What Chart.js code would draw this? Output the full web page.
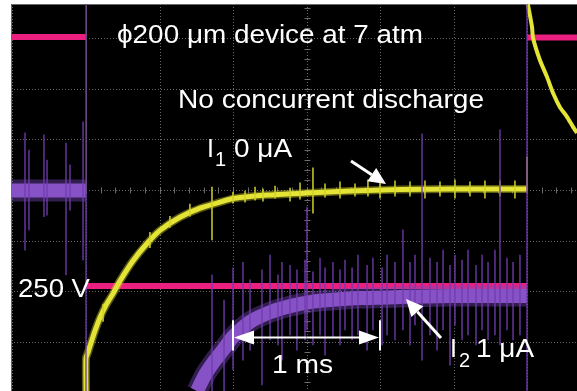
<!DOCTYPE html>
<html>
<head>
<meta charset="utf-8">
<script src="https://cdn.jsdelivr.net/npm/chart.js@4/dist/chart.umd.min.js"></script>
<style>
html,body{margin:0;padding:0;background:#fff;}
canvas{display:block;}
</style>
</head>
<body>
<canvas id="c" width="577" height="391"></canvas>
<script>
// ---- data (time in ms, amplitude in scope divisions) ----
const pinkPreT  = [-0.51, 0.0];
const pinkPre   = [3.03, 3.03];
const pinkOnT   = [0.0, 3.0];
const pinkOn    = [-1.90, -1.90];
const pinkPostT = [3.0, 3.34];
const pinkPost  = [3.02, 3.02];

const yellowRiseT = [0, 0, 0.014, 0.027, 0.061, 0.095, 0.136, 0.184, 0.231, 0.320, 0.415, 0.503, 0.639, 0.776, 0.912, 1.0, 1.231, 1.503, 1.796, 2.136, 2.476, 3.0];
const yellowRise  = [-3.98, -3.33, -3.21, -3.09, -2.79, -2.53, -2.28, -2.05, -1.80, -1.40, -1.06, -0.80, -0.54, -0.36, -0.24, -0.17, -0.10, -0.06, -0.02, 0.01, 0.02, 0.02];
const yellowDecayT = [3.0, 3.007, 3.034, 3.041, 3.088, 3.136, 3.177, 3.224, 3.272, 3.313, 3.34];
const yellowDecay  = [3.75, 3.66, 3.23, 3.01, 2.57, 2.24, 1.92, 1.64, 1.45, 1.25, 1.13];

const purplePreT = [-0.51, 0.0];
const purplePre  = [-0.01, -0.01];
const purpleRiseT = [0.755, 0.810, 0.878, 0.932, 1.0, 1.116, 1.252, 1.388, 1.524, 1.660, 1.864, 2.136, 2.476, 3.0];
const purpleRise  = [-3.98, -3.66, -3.37, -3.17, -2.91, -2.61, -2.42, -2.30, -2.22, -2.18, -2.14, -2.12, -2.10, -2.10];

// spikes: time, low, high
const purpleSpikeT  = [-0.415, -0.388, -0.286, -0.265, -0.136, -0.109, -0.020, 0.0, 3.0,
  0.857, 0.939, 1.0, 1.068, 1.116, 1.197, 1.252, 1.306, 1.333, 1.388, 1.435, 1.490, 1.503, 1.544, 1.592, 1.626, 1.680, 1.728, 1.762, 1.810, 1.850, 1.912, 1.952, 2.014, 2.048, 2.102,
  2.156, 2.204, 2.238, 2.286, 2.340, 2.388, 2.429, 2.476, 2.510, 2.558, 2.599, 2.653, 2.694, 2.735, 2.782, 2.816, 2.864, 2.905, 2.952];
const purpleSpikeLo = [-1.19, -0.79, -0.53, -0.50, -1.68, -0.40, -1.39, -4.0, -4.0,
  -3.98, -3.98, -3.56, -3.37, -3.17, -3.86, -2.97, -3.07, -3.37, -2.87, -3.17, -2.97, -2.77, -3.07, -2.87, -3.27, -2.93, -3.07, -2.77, -2.97, -2.87, -3.17, -2.77, -3.07, -2.87, -2.97,
  -2.77, -3.07, -2.67, -3.37, -2.87, -3.17, -2.77, -3.47, -2.67, -2.97, -2.87, -3.07, -2.77, -2.97, -2.87, -3.07, -2.77, -2.97, -2.87];
const purpleSpikeHi = [1.13, 0.79, 1.09, 0.59, 0.93, 0.50, 1.35, 3.7, 3.7,
  -1.68, -2.18, -1.54, -1.43, -1.78, -1.58, -1.29, -1.68, -1.43, -1.49, -1.58, -1.39, -0.34, -1.62, -1.35, -1.54, -1.43, -1.58, -1.39, -1.54, -1.29, -1.49, -1.35, -1.54, -1.29, -1.43,
  -0.79, -1.43, -1.29, 1.11, -1.35, -1.43, -1.19, -1.49, -1.29, -1.39, -1.19, -1.49, -1.29, -1.43, -1.19, 1.19, -1.35, -1.43, -1.29];

const yellowSpikeT  = [0.116, 0.435, 0.571, 0.707, 0.857, 1.0, 1.082, 1.150, 1.204, 1.286, 1.388, 1.456, 1.544, 1.626, 1.728, 1.830, 1.918, 2.0, 2.102, 2.204, 2.306, 2.408, 2.510, 2.612, 2.714, 2.816, 2.918, 3.0];
const yellowSpikeLo = [-2.60, -1.14, -0.74, -0.52, -0.99, -0.26, -0.24, -0.20, -0.22, -0.16, -0.22, -0.18, -0.46, -0.14, -0.16, -0.12, -0.12, -0.16, -0.12, -0.12, -0.16, -0.12, -0.16, -0.12, -0.16, -0.12, -0.16, 0.0];
const yellowSpikeHi = [-2.26, -0.84, -0.52, -0.28, 0.06, -0.04, -0.02, 0.06, 0.02, 0.08, 0.04, 0.14, 0.44, 0.12, 0.16, 0.12, 0.20, 0.16, 0.18, 0.16, 0.18, 0.16, 0.20, 0.16, 0.18, 0.18, 0.18, 0.65];

// ---- helpers ----
const pts = (xs, ys) => xs.map((x, i) => ({x: x, y: ys[i]}));
const bars = (xs, lo, hi) => xs.map((x, i) => ({x: x, y: [lo[i], hi[i]]}));

const PINK = '#ea1f7f', YELLOW = '#e4e436', PURPLE = '#8752c6';
const FONT = '"Liberation Sans", Arial, sans-serif';

function lineDs(data, color, width, order) {
  return {type: 'line', data: data, borderColor: color, borderWidth: width, pointRadius: 0,
    tension: 0.2, fill: false, order: order, borderCapStyle: 'butt', borderJoinStyle: 'round'};
}
function barDs(data, color, order) {
  return {type: 'bar', data: data, backgroundColor: color, borderWidth: 0, barThickness: 1,
    grouped: false, order: order};
}

function fitText(ctx, str, x, base, w, size) {
  ctx.font = size + 'px ' + FONT;
  const m = ctx.measureText(str).width;
  ctx.save();
  ctx.translate(x, base);
  if (w) ctx.scale(w / m, 1);
  ctx.fillText(str, 0, 0);
  ctx.restore();
}
function arrow(ctx, x1, y1, x2, y2, hl, hw, lw) {
  const a = Math.atan2(y2 - y1, x2 - x1);
  const bx = x2 - hl * Math.cos(a), by = y2 - hl * Math.sin(a);
  ctx.lineWidth = lw;
  ctx.beginPath(); ctx.moveTo(x1, y1); ctx.lineTo(bx, by); ctx.stroke();
  ctx.beginPath();
  ctx.moveTo(x2, y2);
  ctx.lineTo(bx + hw * Math.sin(a), by - hw * Math.cos(a));
  ctx.lineTo(bx - hw * Math.sin(a), by + hw * Math.cos(a));
  ctx.closePath(); ctx.fill();
}

const scopePlugin = {
  id: 'scope',
  beforeDatasetsDraw(chart) {
    const {ctx, chartArea: ca, scales: {x, y}} = chart;
    ctx.save();
    ctx.fillStyle = '#000';
    ctx.fillRect(ca.left, ca.top, ca.right - ca.left, ca.bottom - ca.top);
    ctx.strokeStyle = 'rgba(150,150,150,0.7)';
    ctx.lineWidth = 1;
    ctx.setLineDash([1, 2]);
    for (let t = -0.5; t <= 3.34; t += 0.5) {
      const px = Math.round(x.getPixelForValue(t)) + 0.5;
      ctx.beginPath(); ctx.moveTo(px, ca.top); ctx.lineTo(px, ca.bottom); ctx.stroke();
    }
    for (let v = -3; v <= 3; v += 1) {
      const py = Math.round(y.getPixelForValue(v)) + 0.5;
      ctx.beginPath(); ctx.moveTo(ca.left, py); ctx.lineTo(ca.right, py); ctx.stroke();
    }
    ctx.setLineDash([]);
    ctx.strokeStyle = 'rgba(130,130,130,0.8)';
    ctx.beginPath(); ctx.moveTo(ca.left + 0.5, ca.bottom); ctx.lineTo(ca.left + 0.5, ca.top + 0.5); ctx.lineTo(ca.right, ca.top + 0.5); ctx.stroke();
    const y0 = Math.round(y.getPixelForValue(0)) + 0.5;
    for (let t = -0.5; t <= 3.34; t += 0.1) {
      const px = Math.round(x.getPixelForValue(t)) + 0.5;
      ctx.beginPath(); ctx.moveTo(px, y0 - 3); ctx.lineTo(px, y0 + 3); ctx.stroke();
    }
    const xc = Math.round(x.getPixelForValue(1.5)) + 0.5;
    for (let v = -4; v <= 3.7; v += 0.2) {
      const py = Math.round(y.getPixelForValue(v)) + 0.5;
      ctx.beginPath(); ctx.moveTo(xc - 3, py); ctx.lineTo(xc + 3, py); ctx.stroke();
    }
    const xt = Math.round(x.getPixelForValue(0)) + 0.5;
    ctx.strokeStyle = '#5c5a22';
    ctx.beginPath(); ctx.moveTo(xt, ca.top); ctx.lineTo(xt, y.getPixelForValue(0)); ctx.stroke();
    ctx.restore();
  },
  afterDatasetsDraw(chart) {
    const {ctx, scales: {x, y}} = chart;
    ctx.save();
    ctx.fillStyle = '#fff';
    ctx.strokeStyle = '#fff';
    ctx.textBaseline = 'alphabetic';
    fitText(ctx, 'ϕ200 μm device at 7 atm', 117, 43, 306, 25);
    fitText(ctx, 'No concurrent discharge', 178, 108, 306, 25);
    fitText(ctx, 'I', 207, 157, null, 25);
    fitText(ctx, '1', 215, 166, null, 20);
    fitText(ctx, '0 μA', 234, 157, 58, 25);
    fitText(ctx, '250 V', 18, 297, 72, 25);
    fitText(ctx, '1 ms', 272, 373, 61, 25);
    fitText(ctx, 'I', 450, 357, null, 25);
    fitText(ctx, '2', 459, 367, null, 20);
    fitText(ctx, '1 μA', 476, 357, 58, 25);
    ctx.lineCap = 'butt';
    arrow(ctx, 351, 161, 386, 184, 17, 8, 3);
    arrow(ctx, 441, 338, 406, 299, 17, 8, 3);
    const xa = x.getPixelForValue(1.0), xb = x.getPixelForValue(2.0);
    const yb = y.getPixelForValue(-2.92);
    ctx.lineWidth = 2;
    ctx.beginPath();
    ctx.moveTo(xa, y.getPixelForValue(-2.58)); ctx.lineTo(xa, y.getPixelForValue(-3.18));
    ctx.moveTo(xb, y.getPixelForValue(-2.58)); ctx.lineTo(xb, y.getPixelForValue(-3.18));
    ctx.stroke();
    arrow(ctx, (xa + xb) / 2, yb, xa + 1, yb, 20, 7, 2);
    arrow(ctx, (xa + xb) / 2, yb, xb - 1, yb, 20, 7, 2);
    ctx.restore();
  }
};

new Chart(document.getElementById('c'), {
  type: 'line',
  data: {
    datasets: [
      barDs(bars(purpleSpikeT, purpleSpikeLo, purpleSpikeHi), 'rgba(112,60,175,0.8)', 1),
      lineDs(pts(purplePreT, purplePre), PURPLE, 14, 2),
      lineDs(pts(purpleRiseT, purpleRise), PURPLE, 14, 2),
      lineDs(pts(purplePreT, purplePre), 'rgba(125,75,195,0.4)', 22, 3),
      lineDs(pts(purpleRiseT, purpleRise), 'rgba(125,75,195,0.4)', 21, 3),
      barDs(bars(yellowSpikeT, yellowSpikeLo, yellowSpikeHi), 'rgba(210,210,40,0.9)', 4),
      lineDs(pts(yellowRiseT, yellowRise), YELLOW, 5, 5),
      lineDs(pts(yellowRiseT, yellowRise), 'rgba(200,200,40,0.45)', 8, 6),
      lineDs(pts(yellowDecayT, yellowDecay), YELLOW, 4, 5),
      lineDs(pts(pinkPreT, pinkPre), PINK, 6, 7),
      lineDs(pts(pinkOnT, pinkOn), PINK, 6, 7),
      lineDs(pts(pinkPostT, pinkPost), PINK, 6, 7)
    ]
  },
  options: {
    responsive: false,
    devicePixelRatio: 1,
    animation: false,
    events: [],
    layout: {padding: {left: 11, top: 4, right: 0, bottom: 0}},
    plugins: {legend: {display: false}, tooltip: {enabled: false}},
    scales: {
      x: {type: 'linear', min: -0.5102, max: 3.3401, display: false, offset: false},
      y: {type: 'linear', min: -3.980, max: 3.683, display: false}
    }
  },
  plugins: [scopePlugin]
});
</script>
</body>
</html>
